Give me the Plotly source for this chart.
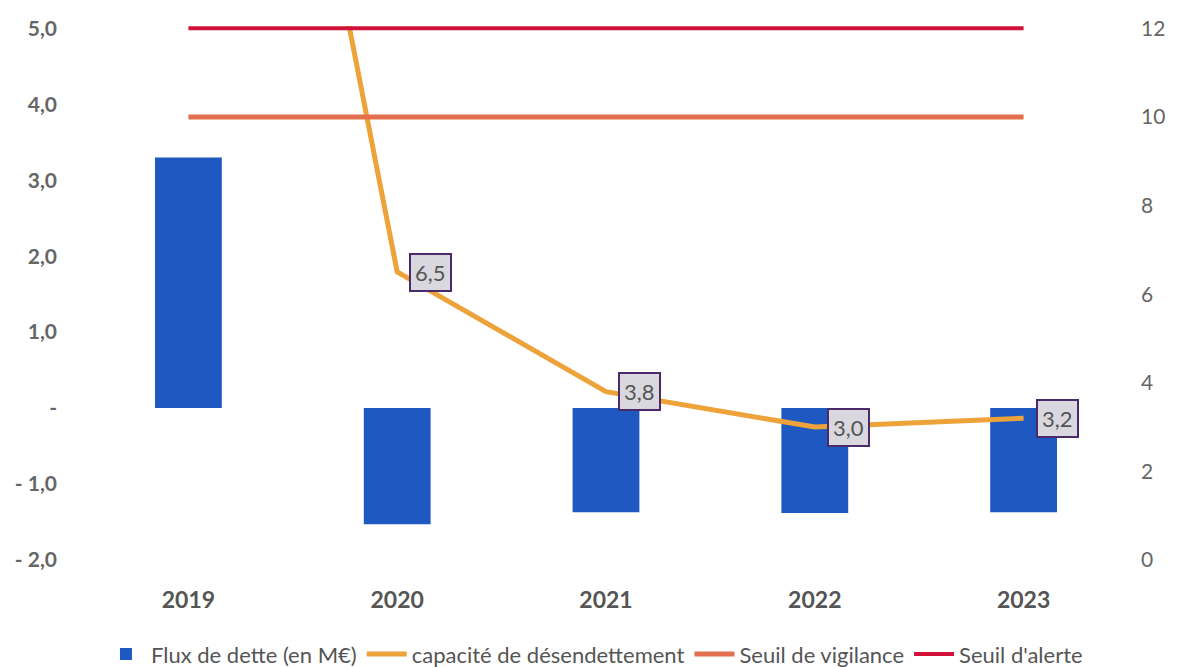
import plotly.graph_objects as go

years = ["2019", "2020", "2021", "2022", "2023"]
flux_dette = [3.30, -1.53, -1.37, -1.38, -1.37]
capacite = [30.6, 6.5, 3.8, 3.0, 3.2]
capacite_labels = ["", "6,5", "3,8", "3,0", "3,2"]
seuil_vigilance = [10, 10, 10, 10, 10]
seuil_alerte = [12, 12, 12, 12, 12]

left_ticks = [-2, -1, 0, 1, 2, 3, 4, 5]
left_ticktext = ["- 2,0", "- 1,0", "-", "1,0", "2,0", "3,0", "4,0", "5,0"]
right_ticks = [0, 2, 4, 6, 8, 10, 12]

FONT = "Lato, 'Open Sans', sans-serif"

fig = go.Figure()
fig.add_trace(go.Bar(x=years, y=flux_dette, name="Flux de dette (en M€)",
                     marker=dict(color="#1E59C2", line=dict(width=0))))
fig.add_trace(go.Scatter(x=years, y=capacite, name="capacité de désendettement",
                         mode="lines", line=dict(color="#EDA23A", width=5),
                         yaxis="y2"))
fig.add_trace(go.Scatter(x=years, y=seuil_vigilance, name="Seuil de vigilance",
                         mode="lines", line=dict(color="#E2704E", width=5),
                         yaxis="y2"))
fig.add_trace(go.Scatter(x=years, y=seuil_alerte, name="Seuil d'alerte",
                         mode="lines", line=dict(color="#D01238", width=4),
                         yaxis="y2"))

for i, (v, t) in enumerate(zip(capacite, capacite_labels)):
    if t:
        fig.add_annotation(x=i, y=v, yref="y2", xref="x", text=t,
                           showarrow=False, xanchor="left", yanchor="middle",
                           xshift=12, bgcolor="#D8D8DE", bordercolor="#4A2A6A",
                           borderwidth=2, borderpad=4,
                           font=dict(family=FONT, size=22, color="#555555"))

fig.update_layout(
    width=1180, height=667,
    paper_bgcolor="white", plot_bgcolor="white",
    margin=dict(l=76, r=60, t=18, b=115, autoexpand=False),
    bargap=0.68,
    showlegend=True,
    legend=dict(orientation="h", x=0.497, xref="container", xanchor="center",
                y=0.031, yref="container", yanchor="middle",
                font=dict(family=FONT, size=22, color="#555555"),
                traceorder="normal", itemwidth=40),
    xaxis=dict(type="category", range=[-0.5, 4.5], showgrid=False, zeroline=False,
               showline=False, ticks="", automargin=False,
               tickfont=dict(family=FONT, size=23, color="#555555", weight="bold"),
               ticklabelstandoff=24),
    yaxis=dict(range=[-2, 5.03], tickvals=left_ticks, ticktext=left_ticktext,
               showgrid=False, zeroline=False, showline=False, ticks="", automargin=False,
               tickfont=dict(family=FONT, size=21, color="#666666", weight="bold"),
               ticklabelstandoff=26),
    yaxis2=dict(range=[0, 12.052], tickvals=right_ticks, overlaying="y", side="right",
                showgrid=False, zeroline=False, showline=False, ticks="", automargin=False,
                tickfont=dict(family=FONT, size=21, color="#666666"),
                ticklabelstandoff=12),
    font=dict(family=FONT),
)

fig.write_html("out.html")
